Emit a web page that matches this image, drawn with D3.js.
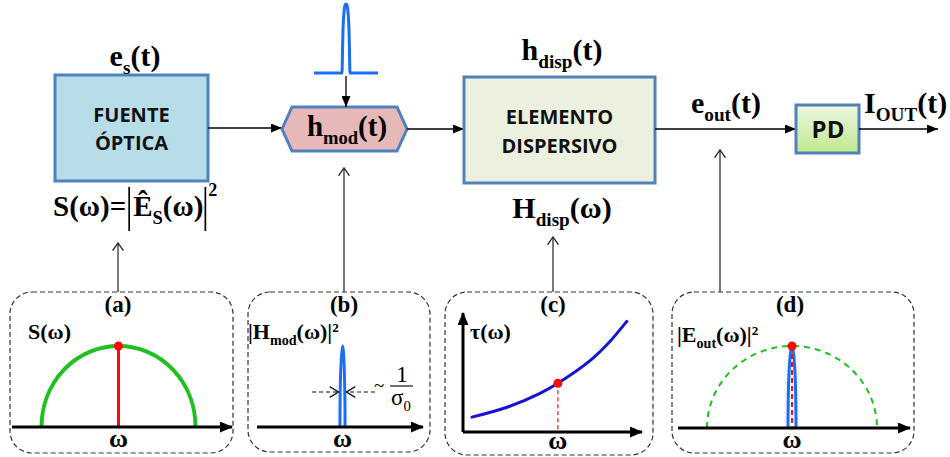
<!DOCTYPE html>
<html>
<head>
<meta charset="utf-8">
<script src="https://cdn.jsdelivr.net/npm/d3@7/dist/d3.min.js"></script>
<style>
  body { margin: 0; background: #fff; }
  svg { display: block; }
</style>
</head>
<body>
<svg id="diagram" width="950" height="457"></svg>
<script>
// ---------------- data ----------------
// block captions (line breaks with "|")
const blockCaptions = ["FUENTE|ÓPTICA", "ELEMENTO|DISPERSIVO", "PD"];
// signal labels: "_" prefix = subscript, "^" prefix = superscript
const labelSource   = ["e", "_s", "(t)"];
const labelMod      = ["h", "_mod", "(t)"];
const labelDispT    = ["h", "_disp", "(t)"];
const labelDispW    = ["H", "_disp", "(ω)"];
const labelOut      = ["e", "_out", "(t)"];
const labelCurrent  = ["I", "_OUT", "(t)"];
// inset panel tags and ordinate titles
const panelTags   = ["(a)", "(b)", "(c)", "(d)"];
const panelTitles = [
  ["S(ω)"],
  ["|H", "_mod", "(ω)|", "^2"],
  ["τ(ω)"],
  ["|E", "_out", "(ω)|", "^2"]
];
const axisSymbol = "ω";
// modulating pulse h_mod(t): time offset vs normalised amplitude
const pulseTime = [-32, -4, -3.5, -3, -2, -1, 0, 1, 2, 3, 3.5, 4, 32];
const pulseAmp  = [0, 0, 0.3, 0.62, 0.88, 0.98, 1, 0.98, 0.88, 0.62, 0.3, 0, 0];
// spectra: source half-width and peak, modulator peak half-widths in (b) and (d)
const sourceHalfWidth = 1;
const sourcePeak = 1;
const modHalfWidth = [0.033, 0.047];
// group delay τ(ω) of the dispersive element
const tauOmega = [0.5, 2.5, 4.3, 5.3, 7.1, 8.05, 9.15];
const tauValue = [1.25, 2.1, 3.25, 4.1, 6.0, 7.35, 9.3];
const tauCarrierIndex = 3;

// ---------------- styling ----------------
const SERIF = "'Liberation Serif', 'Times New Roman', serif";
const SANS = "'Open Sans', 'Noto Sans', sans-serif";
const BORDER = "#4f81bd";
const GREEN = "#1fc01f";
const RED = "#ff0a0a";
const BLUE_BRIGHT = "#1a6ef5";
const BLUE_DARK = "#1414d2";
const MAIN_SIZE = 30;
const PANEL_SIZE = 22;

const svg = d3.select("#diagram");
svg.append("rect").attr("width", 950).attr("height", 457).attr("fill", "#fff");
const defs = svg.append("defs");

function addMarker(id, vb, w, h, refX, refY, d, filled, stroke) {
  const m = defs.append("marker")
    .attr("id", id).attr("viewBox", vb)
    .attr("markerWidth", w).attr("markerHeight", h)
    .attr("refX", refX).attr("refY", refY)
    .attr("orient", "auto").attr("markerUnits", "userSpaceOnUse");
  m.append("path").attr("d", d)
    .attr("fill", filled ? stroke : "none")
    .attr("stroke", filled ? "none" : stroke)
    .attr("stroke-width", filled ? 0 : 1.3)
    .attr("stroke-linejoin", "miter");
}
addMarker("flow", "0 0 11 9", 11, 9, 11, 4.5, "M0,0L11,4.5L0,9Z", true, "#000");
addMarker("axisHead", "0 0 13 11", 13, 11, 12, 5.5, "M0,0L13,5.5L0,11Z", true, "#000");
addMarker("vee", "0 0 9 12", 9, 12, 8.3, 6, "M0.6,0.6L8.3,6L0.6,11.4", false, "#222");
addMarker("veeDash", "0 0 10 12", 10, 12, 9.3, 6, "M0.6,0.6L9.3,6L0.6,11.4", false, "#111");

const pdGrad = defs.append("linearGradient").attr("id", "pdFill")
  .attr("x1", 0).attr("y1", 0).attr("x2", 0).attr("y2", 1);
pdGrad.append("stop").attr("offset", "0%").attr("stop-color", "#ecf8e0");
pdGrad.append("stop").attr("offset", "100%").attr("stop-color", "#bfe88f");

// rich text with sub/superscripts
function rich(parent, x, y, parts, size, anchor, weight) {
  const t = parent.append("text")
    .attr("x", x).attr("y", y)
    .attr("font-family", SERIF)
    .attr("font-weight", weight || "bold")
    .attr("font-size", size)
    .attr("text-anchor", anchor || "start")
    .attr("fill", "#000");
  let shift = 0;
  parts.forEach(p => {
    let txt = p, target = 0, fs = size;
    if (p[0] === "_") { txt = p.slice(1); target = size * 0.27; fs = size * 0.64; }
    else if (p[0] === "^") { txt = p.slice(1); target = -size * 0.3; fs = size * 0.6; }
    t.append("tspan").attr("font-size", fs).attr("dy", target - shift).text(txt);
    shift = target;
  });
  return t;
}

function line(x1, y1, x2, y2, opts) {
  const l = svg.append("line")
    .attr("x1", x1).attr("y1", y1).attr("x2", x2).attr("y2", y2)
    .attr("stroke", opts.stroke || "#000")
    .attr("stroke-width", opts.width || 1.3);
  if (opts.dash) l.attr("stroke-dasharray", opts.dash);
  if (opts.marker) l.attr("marker-end", `url(#${opts.marker})`);
  return l;
}

function boxCaption(cx, baselines, caption, size) {
  caption.split("|").forEach((s, i) => {
    svg.append("text").attr("x", cx).attr("y", baselines[i])
      .attr("text-anchor", "middle")
      .attr("font-family", SANS).attr("font-weight", "bold")
      .attr("font-size", size).attr("fill", "#111").text(s);
  });
}

// ---------------- main chain ----------------
const flowY = 129;

// optical source
svg.append("rect").attr("x", 55).attr("y", 75).attr("width", 153).attr("height", 106)
  .attr("fill", "#b7dde8").attr("stroke", BORDER).attr("stroke-width", 3);
boxCaption(131.5, [122, 150], blockCaptions[0], 20);
rich(svg, 135, 66, labelSource, MAIN_SIZE, "middle");

// source spectrum formula S(ω)=|Ê_S(ω)|²
{
  const base = 216;
  const a = rich(svg, 53, base, ["S(ω)="], MAIN_SIZE - 1, "start");
  const aEnd = 53 + a.node().getComputedTextLength();
  const bar1 = aEnd + 3;
  line(bar1, 187, bar1, 231, { width: 1.7 });
  const b = rich(svg, bar1 + 4, base, ["Ê", "_S", "(ω)"], MAIN_SIZE - 1, "start");
  const bEnd = bar1 + 4 + b.node().getComputedTextLength();
  const bar2 = bEnd + 2;
  line(bar2, 187, bar2, 231, { width: 1.7 });
  rich(svg, bar2 + 3, 196, ["2"], 18, "start");
}

line(208, flowY - 1, 282, flowY - 1, { marker: "flow", width: 1.3 });

// modulator hexagon
const hex = [[282, 129], [292, 107], [397, 107], [407, 129], [397, 151], [292, 151]];
svg.append("path").attr("d", d3.line()(hex) + "Z")
  .attr("fill", "#e6b8b7").attr("stroke", BORDER).attr("stroke-width", 3);
rich(svg, 347, 136, labelMod, MAIN_SIZE - 1, "middle");

// modulating pulse above the modulator
{
  const xP = d3.scaleLinear().domain([-32, 32]).range([314, 378]);
  const yP = d3.scaleLinear().domain([0, 1]).range([73, 4]);
  const pts = pulseTime.map((t, i) => [xP(t), yP(pulseAmp[i])]);
  svg.append("path").attr("d", d3.line().curve(d3.curveMonotoneX)(pts))
    .attr("fill", "none").attr("stroke", BLUE_BRIGHT).attr("stroke-width", 3);
  line(346, 76, 346, 107, { marker: "flow", width: 1.3 });
}

line(407, flowY, 464, flowY, { marker: "flow", width: 1.3 });

// dispersive element
svg.append("rect").attr("x", 464).attr("y", 77).attr("width", 191).attr("height", 106)
  .attr("fill", "#ebf1de").attr("stroke", BORDER).attr("stroke-width", 3);
boxCaption(559.5, [124, 153], blockCaptions[1], 20);
rich(svg, 562, 60, labelDispT, MAIN_SIZE, "middle");
rich(svg, 562, 218, labelDispW, MAIN_SIZE, "middle");

line(655, flowY, 796, flowY, { marker: "flow", width: 1.3 });
rich(svg, 726, 113, labelOut, MAIN_SIZE, "middle");

// photodetector
svg.append("rect").attr("x", 796).attr("y", 105).attr("width", 63).attr("height", 48)
  .attr("fill", "url(#pdFill)").attr("stroke", BORDER).attr("stroke-width", 3);
boxCaption(828, [138], blockCaptions[2], 24);
line(859, flowY, 938, flowY, { marker: "flow", width: 1.3 });
rich(svg, 864, 113, labelCurrent, MAIN_SIZE, "start");

// ---------------- inset panels ----------------
const panels = [
  { x: 10, y: 292, w: 223, h: 161, link: 118, tip: 243, tagX: 118 },
  { x: 248, y: 292, w: 182, h: 160, link: 344, tip: 168, tagX: 344 },
  { x: 445, y: 292, w: 208, h: 163, link: 553, tip: 237, tagX: 553 },
  { x: 672, y: 292, w: 242, h: 161, link: 720, tip: 150, tagX: 790 }
];
panels.forEach((p, i) => {
  svg.append("rect").attr("x", p.x).attr("y", p.y).attr("width", p.w).attr("height", p.h)
    .attr("rx", 22).attr("ry", 22)
    .attr("fill", "none").attr("stroke", "#333").attr("stroke-width", 1.2)
    .attr("stroke-dasharray", "5,3");
  line(p.link, p.y, p.link, p.tip, { marker: "vee", stroke: "#333", width: 1.3 });
  rich(svg, p.tagX, 312, [panelTags[i]], PANEL_SIZE + 1, "middle");
});

// (a) source spectrum
{
  const axY = 427;
  const x = d3.scaleLinear().domain([-sourceHalfWidth, sourceHalfWidth]).range([41.5, 195.5]);
  const y = d3.scaleLinear().domain([0, sourcePeak]).range([axY, 346]);
  rich(svg, 28, 339, panelTitles[0], PANEL_SIZE, "start");
  const rx = x(sourceHalfWidth) - x(0), ry = y(0) - y(sourcePeak);
  svg.append("path")
    .attr("d", `M${x(-sourceHalfWidth)},${y(0)}A${rx},${ry} 0 0 1 ${x(sourceHalfWidth)},${y(0)}`)
    .attr("fill", "none").attr("stroke", GREEN).attr("stroke-width", 4);
  line(x(0), y(sourcePeak), x(0), y(0), { stroke: RED, width: 3 });
  svg.append("circle").attr("cx", x(0)).attr("cy", y(sourcePeak)).attr("r", 4.5).attr("fill", RED);
  line(12, axY, 232, axY, { marker: "axisHead", width: 3 });
  rich(svg, x(0), 447, [axisSymbol], 26, "middle");
}

// (b) modulator transfer |Hmod(ω)|²
{
  const axY = 427;
  const x = d3.scaleLinear().domain([-1, 1]).range([265.5, 419.5]);
  const y = d3.scaleLinear().domain([0, 1]).range([axY, 346]);
  rich(svg, 248, 339, panelTitles[1], PANEL_SIZE, "start");
  const w = modHalfWidth[0];
  const rx = x(w) - x(0), ry = y(0) - y(1);
  svg.append("path")
    .attr("d", `M${x(-w)},${y(0)}A${rx},${ry} 0 0 1 ${x(w)},${y(0)}`)
    .attr("fill", "none").attr("stroke", BLUE_BRIGHT).attr("stroke-width", 3);
  line(257, axY, 423, axY, { marker: "axisHead", width: 3 });
  rich(svg, x(0), 447, [axisSymbol], 26, "middle");
  // spectral width annotation ~ 1/σ0
  line(312, 392, x(-w) - 1.5, 392, { dash: "4,3", marker: "veeDash", width: 1.2, stroke: "#111" });
  line(375, 392, x(w) + 1.5, 392, { dash: "4,3", marker: "veeDash", width: 1.2, stroke: "#111" });
  rich(svg, 374, 392, ["~"], 19, "start", "normal");
  rich(svg, 402, 382, ["1"], 23, "middle", "normal");
  line(390, 386, 413, 386, { width: 1.1 });
  rich(svg, 391, 405, ["σ", "_0"], 23, "start", "normal");
}

// (c) group delay τ(ω)
{
  const x0 = 463, axY = 432;
  const x = d3.scaleLinear().domain([0, 10]).range([x0, 642]);
  const y = d3.scaleLinear().domain([0, 10]).range([axY, 313]);
  line(x0, axY, x0, 313, { marker: "axisHead", width: 3 });
  line(x0, axY, 642, axY, { marker: "axisHead", width: 3 });
  rich(svg, 470, 339, panelTitles[2], PANEL_SIZE, "start");
  const pts = tauOmega.map((w, i) => [x(w), y(tauValue[i])]);
  svg.append("path").attr("d", d3.line().curve(d3.curveCatmullRom.alpha(0.5))(pts))
    .attr("fill", "none").attr("stroke", BLUE_DARK).attr("stroke-width", 3)
    .attr("stroke-linecap", "round");
  const cx = x(tauOmega[tauCarrierIndex]), cy = y(tauValue[tauCarrierIndex]);
  line(cx, cy, cx, axY - 2, { stroke: RED, width: 1.2, dash: "4,3" });
  svg.append("circle").attr("cx", cx).attr("cy", cy).attr("r", 4.5).attr("fill", RED);
  rich(svg, cx, 449, [axisSymbol], 26, "middle");
}

// (d) output spectrum |Eout(ω)|²
{
  const axY = 428;
  const x = d3.scaleLinear().domain([-sourceHalfWidth, sourceHalfWidth]).range([707, 877]);
  const y = d3.scaleLinear().domain([0, sourcePeak]).range([axY, 346]);
  rich(svg, 677, 342, panelTitles[3], PANEL_SIZE, "start");
  const rx = x(sourceHalfWidth) - x(0), ry = y(0) - y(sourcePeak);
  svg.append("path")
    .attr("d", `M${x(-sourceHalfWidth)},${y(0)}A${rx},${ry} 0 0 1 ${x(sourceHalfWidth)},${y(0)}`)
    .attr("fill", "none").attr("stroke", GREEN).attr("stroke-width", 2)
    .attr("stroke-dasharray", "6,5");
  const w = modHalfWidth[1];
  const prx = x(w) - x(0);
  svg.append("path")
    .attr("d", `M${x(-w)},${y(0)}A${prx},${ry} 0 0 1 ${x(w)},${y(0)}`)
    .attr("fill", "none").attr("stroke", BLUE_BRIGHT).attr("stroke-width", 3);
  line(x(0), y(sourcePeak), x(0), y(0), { stroke: RED, width: 2, dash: "5,3" });
  svg.append("circle").attr("cx", x(0)).attr("cy", y(sourcePeak)).attr("r", 4.5).attr("fill", RED);
  line(678, axY, 910, axY, { marker: "axisHead", width: 3 });
  rich(svg, x(0), 448, [axisSymbol], 26, "middle");
}
</script>
</body>
</html>
